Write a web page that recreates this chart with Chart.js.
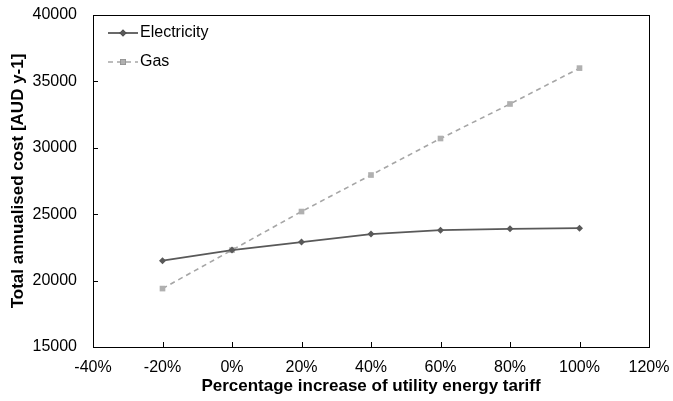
<!DOCTYPE html>
<html>
<head>
<meta charset="utf-8">
<script src="https://cdn.jsdelivr.net/npm/chart.js@4"></script>
<style>
  html, body { margin: 0; padding: 0; background: #fff; }
  #wrap { width: 673px; height: 401px; }
</style>
</head>
<body>
<div id="wrap"><canvas id="costChart" width="673" height="401"></canvas></div>
<script>
// 數據
var tariffIncrease = [-20, 0, 20, 40, 60, 80, 100];
var electricityCost = [21500, 22300, 22900, 23500, 23800, 23900, 23950];
var gasCost = [19400, 22300, 25200, 27950, 30700, 33300, 36000];
var xTicks = [-40, -20, 0, 20, 40, 60, 80, 100, 120];
var yTicks = [15000, 20000, 25000, 30000, 35000, 40000];

var FONT = '"Liberation Sans", Arial, sans-serif';

function toPoints(xs, ys) {
  return xs.map(function(x, i) { return { x: x, y: ys[i] }; });
}

// 邊框和向內刻度
var framePlugin = {
  id: 'frame',
  afterDatasetsDraw: function(chart) {
    var ctx = chart.ctx, a = chart.chartArea;
    var xs = chart.scales.x, ys = chart.scales.y;
    ctx.save();
    ctx.strokeStyle = '#000';
    ctx.lineWidth = 1;
    ctx.strokeRect(Math.round(a.left) + 0.5, Math.round(a.top) + 0.5,
      Math.round(a.right - a.left), Math.round(a.bottom - a.top));
    ctx.beginPath();
    xTicks.forEach(function(v) {
      var px = Math.round(xs.getPixelForValue(v)) + 0.5;
      ctx.moveTo(px, a.bottom);
      ctx.lineTo(px, a.bottom - 5);
    });
    yTicks.forEach(function(v) {
      var py = Math.round(ys.getPixelForValue(v)) + 0.5;
      ctx.moveTo(a.left, py);
      ctx.lineTo(a.left + 5, py);
    });
    ctx.stroke();
    ctx.restore();
  }
};

// 圖例：線段加標記
var legendPlugin = {
  id: 'lineLegend',
  afterDraw: function(chart) {
    var ctx = chart.ctx, a = chart.chartArea;
    ctx.save();
    ctx.font = '16px ' + FONT;
    ctx.textBaseline = 'middle';
    chart.data.datasets.forEach(function(ds, i) {
      var y = a.top + 18 + i * 29;
      var x0 = a.left + 15, x1 = a.left + 45;
      ctx.strokeStyle = ds.borderColor;
      ctx.lineWidth = ds.borderWidth;
      ctx.setLineDash(ds.borderDash || []);
      ctx.beginPath();
      ctx.moveTo(x0, y);
      ctx.lineTo(x1, y);
      ctx.stroke();
      ctx.setLineDash([]);
      Chart.helpers.drawPoint(ctx, {
        pointStyle: ds.pointStyle, radius: ds.pointRadius, borderWidth: 0, rotation: 0
      }, (x0 + x1) / 2, y);
      ctx.fillStyle = ds.pointBackgroundColor;
      ctx.fill();
      ctx.fillStyle = '#000';
      ctx.fillText(ds.label, x1 + 2, y);
    });
    ctx.restore();
  }
};

new Chart(document.getElementById('costChart').getContext('2d'), {
  type: 'line',
  data: {
    datasets: [{
      label: 'Electricity',
      data: toPoints(tariffIncrease, electricityCost),
      borderColor: '#595959',
      backgroundColor: '#595959',
      pointBackgroundColor: '#595959',
      pointBorderWidth: 0,
      borderWidth: 1.8,
      pointStyle: 'rectRot',
      pointRadius: 3.5,
      tension: 0
    }, {
      label: 'Gas',
      data: toPoints(tariffIncrease, gasCost),
      borderColor: '#a6a6a6',
      backgroundColor: '#b0b0b0',
      pointBackgroundColor: '#b0b0b0',
      pointBorderWidth: 0,
      borderWidth: 1.6,
      borderDash: [5, 4],
      pointStyle: 'rect',
      pointRadius: 4,
      tension: 0
    }]
  },
  options: {
    responsive: false,
    animation: false,
    layout: { padding: { top: 15, right: 24, left: 4, bottom: 4 } },
    plugins: {
      legend: { display: false },
      tooltip: { enabled: false }
    },
    scales: {
      x: {
        type: 'linear',
        min: -40, max: 120,
        grid: { display: false },
        border: { display: false },
        afterFit: function(scale) { scale.height = 50; },
        ticks: {
          stepSize: 20, color: '#000', padding: 3,
          font: { family: FONT, size: 16 },
          callback: function(v) { return v + '%'; }
        },
        title: {
          display: true, text: 'Percentage increase of utility energy tariff', color: '#000',
          font: { family: FONT, size: 17, weight: 'bold' },
          padding: { top: 0, bottom: 0 }
        }
      },
      y: {
        min: 15000, max: 40000,
        grid: { display: false },
        border: { display: false },
        afterFit: function(scale) {
          scale.width = 89;
          scale.paddingTop = 0;
          scale.paddingBottom = 0;
        },
        ticks: {
          stepSize: 5000, color: '#000', padding: 8,
          font: { family: FONT, size: 16 },
          callback: function(v) { return String(v); }
        },
        title: {
          display: true, text: 'Total annualised cost [AUD y-1]', color: '#000',
          font: { family: FONT, size: 17, weight: 'bold' },
          padding: { top: 4, bottom: 0 }
        }
      }
    }
  },
  plugins: [framePlugin, legendPlugin]
});
</script>
</body>
</html>
